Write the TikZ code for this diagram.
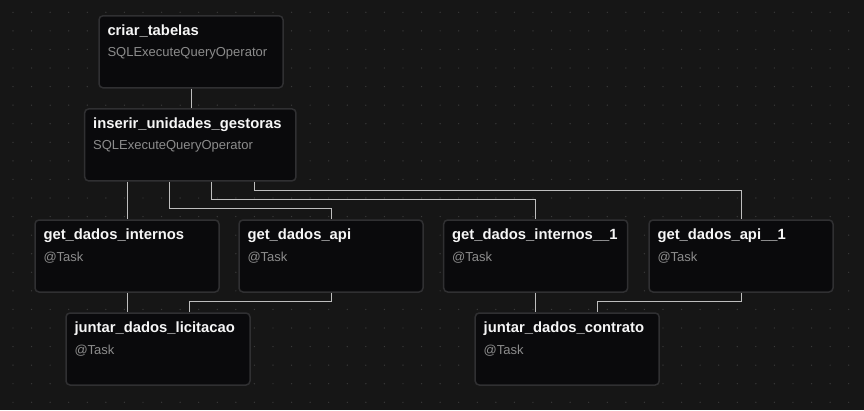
\documentclass[tikz,border=0pt]{standalone}
\usepackage{fontspec}
\setmainfont{Liberation Sans}
\usepackage{tikz}

\definecolor{bgc}{RGB}{22,22,22}
\definecolor{dotc}{RGB}{58,58,58}
\definecolor{boxc}{RGB}{10,10,12}
\definecolor{rimc}{RGB}{48,48,50}
\definecolor{edgec}{RGB}{190,190,190}
\definecolor{titlec}{RGB}{246,246,246}
\definecolor{subc}{RGB}{140,140,140}

% title + operator line of a task box
\newcommand{\taskbox}[3][167pt]{\parbox[t][56pt][t]{#1}{\rule{0pt}{11.3pt}%
  \fontsize{14.8}{21.7}\selectfont\bfseries\color{titlec}#2\par
  \fontsize{13}{21.7}\selectfont\mdseries\color{subc}#3}}

\begin{document}
\begin{tikzpicture}[x=1pt,y=1pt]
	\tikzstyle{task}=[draw=rimc, fill=boxc, line width=1.5pt, rounded corners=4pt, inner xsep=8.5pt, inner ysep=8pt]
	\tikzstyle{edge}=[draw=edgec, line width=1pt]
	\useasboundingbox (0,0) rectangle (864,-410);
	\fill [bgc] (0,0) rectangle (864,-410);
	\foreach \i in {0,...,46}
		\foreach \j in {0,...,21}
			\fill [dotc] (13+18.571*\i,-12.3-18.571*\j) circle (0.7);
	\node [task] (criar) at (191,-51.8) {\taskbox{criar\_tabelas}{SQLExecuteQueryOperator}};
	\node [task] (inserir) at (190.3,-144.9) {\taskbox[194.3pt]{inserir\_unidades\_gestoras}{SQLExecuteQueryOperator}};
	\node [task] (gdi) at (127,-256) {\taskbox{get\_dados\_internos}{@Task}};
	\node [task] (gda) at (331,-256) {\taskbox{get\_dados\_api}{@Task}};
	\node [task] (gdi1) at (535.7,-256) {\taskbox{get\_dados\_internos\_\_1}{@Task}};
	\node [task] (gda1) at (741,-256) {\taskbox{get\_dados\_api\_\_1}{@Task}};
	\node [task] (jdl) at (158,-349) {\taskbox{juntar\_dados\_licitacao}{@Task}};
	\node [task] (jdc) at (567.2,-349) {\taskbox{juntar\_dados\_contrato}{@Task}};
	\draw [edge] (criar.south) -- (criar.south |- inserir.north);
	\draw [edge] (gdi.north |- inserir.south) -- (gdi.north);
	\draw [edge] ([xshift=-21pt]inserir.south) |- ([yshift=10.7pt]gda.north) -- (gda.north);
	\draw [edge] ([xshift=21.4pt]inserir.south) |- ([yshift=19.7pt]gdi1.north) -- (gdi1.north);
	\draw [edge] ([xshift=64pt]inserir.south) |- ([yshift=29pt]gda1.north) -- (gda1.north);
	\draw [edge] (gdi.south) -- (gdi.south |- jdl.north);
	\draw [edge] (gda.south) |- ([xshift=31pt,yshift=10.3pt]jdl.north) -- ([xshift=31pt]jdl.north);
	\draw [edge] (gdi1.south) -- (gdi1.south |- jdc.north);
	\draw [edge] (gda1.south) |- ([xshift=30.5pt,yshift=10.3pt]jdc.north) -- ([xshift=30.5pt]jdc.north);
\end{tikzpicture}
\end{document}
